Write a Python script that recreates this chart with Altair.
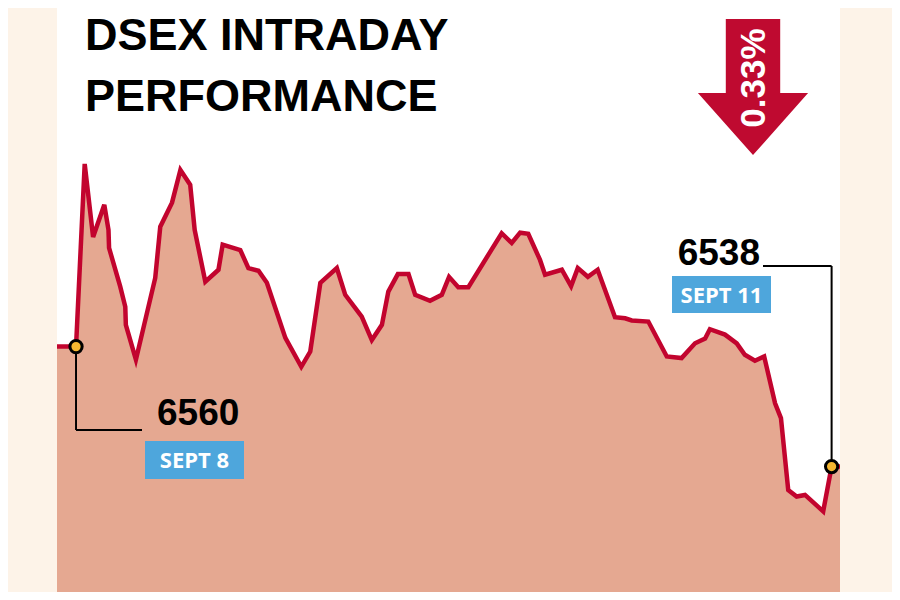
import altair as alt
import pandas as pd

# ---- data ----
title_lines = ["DSEX INTRADAY", "PERFORMANCE"]
change_label = "0.33%"

# minutes after market open (10:00); negative = previous close carried in
minutes = [-6.8, 0.0, 3.1, 6.1, 10.1, 11.6, 11.8, 15.8, 17.6, 17.8,
           21.4, 28.3, 30.1, 34.3, 37.3, 40.8, 42.4, 46.2, 50.9, 52.4,
           58.7, 61.6, 65.2, 68.2, 74.8, 80.5, 83.7, 87.3, 93.2, 96.2,
           102.1, 105.7, 109.3, 111.6, 115.0, 118.8, 121.2, 126.5, 130.7, 133.3,
           136.6, 140.2, 152.1, 155.7, 158.7, 161.6, 165.8, 167.6, 173.6, 176.9,
           179.3, 182.9, 186.4, 192.6, 196.2, 198.6, 204.5, 211.1, 216.4, 221.2,
           224.8, 226.5, 231.9, 236.1, 239.0, 242.6, 245.9, 249.8, 251.9, 254.5,
           257.5, 260.5, 267.0, 270.0, 273.0]
dsex = [6560.0, 6560.0, 6593.5, 6580.1, 6586.0, 6581.4, 6578.1, 6571.0, 6567.3, 6564.0,
        6557.6, 6572.6, 6582.0, 6586.4, 6592.4, 6589.7, 6581.4, 6571.9, 6574.1, 6578.7,
        6577.7, 6574.4, 6573.9, 6571.7, 6561.6, 6556.3, 6559.1, 6571.7, 6574.4, 6569.5,
        6565.5, 6561.2, 6564.0, 6570.1, 6573.3, 6573.3, 6569.5, 6568.4, 6569.5, 6572.8,
        6570.9, 6570.9, 6580.8, 6579.0, 6580.9, 6580.7, 6575.9, 6573.2, 6574.1, 6571.1,
        6574.4, 6572.8, 6574.1, 6565.4, 6565.2, 6564.8, 6564.6, 6558.2, 6557.9, 6560.6,
        6561.5, 6563.2, 6562.2, 6560.6, 6558.5, 6557.4, 6558.2, 6549.6, 6546.9, 6533.7,
        6532.5, 6532.8, 6529.8, 6538.0, 6538.0]

ann_minutes = [0.0, 270.0]
ann_values = [6560.0, 6538.0]
ann_labels = ["6560", "6538"]
ann_dates = ["SEPT 8", "SEPT 11"]

assert len(minutes) == len(dsex)

df = pd.DataFrame({"t": minutes, "v": dsex})
ann = pd.DataFrame({"t": ann_minutes, "v": ann_values, "label": ann_labels, "date": ann_dates})
one = pd.DataFrame({"k": [0]})

# ---- styling ----
W, H = 884, 584
CREAM = "#fdf3e8"
FILL = "#e5a891"
RED = "#c2042e"
BLUE = "#4ea6dc"
DOT = "#f5b731"
COND = "Liberation Sans, Arial, sans-serif"
SANS = "Open Sans, Noto Sans, sans-serif"

xs = alt.Scale(domain=[-6.8, 273.0], range=[49, 832], nice=False, zero=False)
ys = alt.Scale(domain=[6515.0, 6622.1], range=[H, 0], nice=False, zero=False)
X = alt.X("t:Q", scale=xs, axis=None)
Y = alt.Y("v:Q", scale=ys, axis=None)

panel = alt.Chart(one).mark_rect(color="white").encode(
    x=alt.value(49), x2=alt.value(832), y=alt.value(0), y2=alt.value(H))

area = alt.Chart(df).mark_area(color=FILL, opacity=1).encode(x=X, y=Y)
line = alt.Chart(df).mark_line(color=RED, strokeWidth=4.5, strokeJoin="miter").encode(x=X, y=Y)

left = ann.iloc[[0]]
right = ann.iloc[[1]]
rule_l_v = alt.Chart(left).mark_rule(color="black", strokeWidth=2).encode(x=X, y=Y, y2=alt.value(422))
rule_l_h = alt.Chart(left).mark_rule(color="black", strokeWidth=2).encode(x=X, x2=alt.value(134), y=alt.value(422))
rule_r_v = alt.Chart(right).mark_rule(color="black", strokeWidth=2).encode(x=X, y=Y, y2=alt.value(258))
rule_r_h = alt.Chart(right).mark_rule(color="black", strokeWidth=2).encode(x=X, x2=alt.value(755), y=alt.value(258))

dots = alt.Chart(ann).mark_point(shape="circle", filled=True, fill=DOT, stroke="black",
                                 strokeWidth=3, size=150, opacity=1).encode(x=X, y=Y)

num_l = alt.Chart(left).mark_text(font=COND, fontSize=37, fontWeight="bold", align="left",
                                  baseline="alphabetic", color="black").encode(
    x=alt.value(149), y=alt.value(417), text="label:N")
num_r = alt.Chart(right).mark_text(font=COND, fontSize=37, fontWeight="bold", align="right",
                                   baseline="alphabetic", color="black").encode(
    x=alt.value(752), y=alt.value(257), text="label:N")

box_l = alt.Chart(left).mark_rect(color=BLUE).encode(
    x=alt.value(137), x2=alt.value(236), y=alt.value(433), y2=alt.value(471))
box_r = alt.Chart(right).mark_rect(color=BLUE).encode(
    x=alt.value(664), x2=alt.value(763), y=alt.value(268), y2=alt.value(305))
date_l = alt.Chart(left).mark_text(font=SANS, fontSize=22, fontWeight="bold", color="white",
                                   align="center", baseline="middle").encode(
    x=alt.value(186.5), y=alt.value(453), text="date:N")
date_r = alt.Chart(right).mark_text(font=SANS, fontSize=22, fontWeight="bold", color="white",
                                    align="center", baseline="middle").encode(
    x=alt.value(713.5), y=alt.value(287.5), text="date:N")

title1 = alt.Chart(one).mark_text(font=COND, fontSize=45, fontWeight="bold", align="left",
                                  baseline="alphabetic", color="black", text=title_lines[0]).encode(
    x=alt.value(77), y=alt.value(42))
title2 = alt.Chart(one).mark_text(font=COND, fontSize=45, fontWeight="bold", align="left",
                                  baseline="alphabetic", color="black", text=title_lines[1]).encode(
    x=alt.value(77), y=alt.value(103))

arrow_path = "M-0.4,-1 L0.4,-1 L0.4,0.09 L0.81,0.09 L0,1 L-0.81,0.09 L-0.4,0.09 Z"
arrow = alt.Chart(one).mark_point(shape=arrow_path, filled=True, fill="#bf0a30", strokeWidth=0,
                                  size=136 * 136, opacity=1).encode(
    x=alt.value(745), y=alt.value(79))
arrow_txt = alt.Chart(one).mark_text(font=COND, fontSize=35, fontWeight="bold", color="white",
                                     angle=270, align="center", baseline="middle",
                                     text=change_label).encode(
    x=alt.value(746), y=alt.value(70))

chart = alt.layer(
    panel, area, line, rule_l_v, rule_l_h, rule_r_v, rule_r_h, dots,
    num_l, num_r, box_l, box_r, date_l, date_r, title1, title2, arrow, arrow_txt
).properties(
    width=W, height=H, padding=0,
    autosize=alt.AutoSizeParams(type="none"),
    background=CREAM,
).configure_view(strokeWidth=0)

chart.save("out.html", embed_options={"renderer": "svg", "actions": False})
